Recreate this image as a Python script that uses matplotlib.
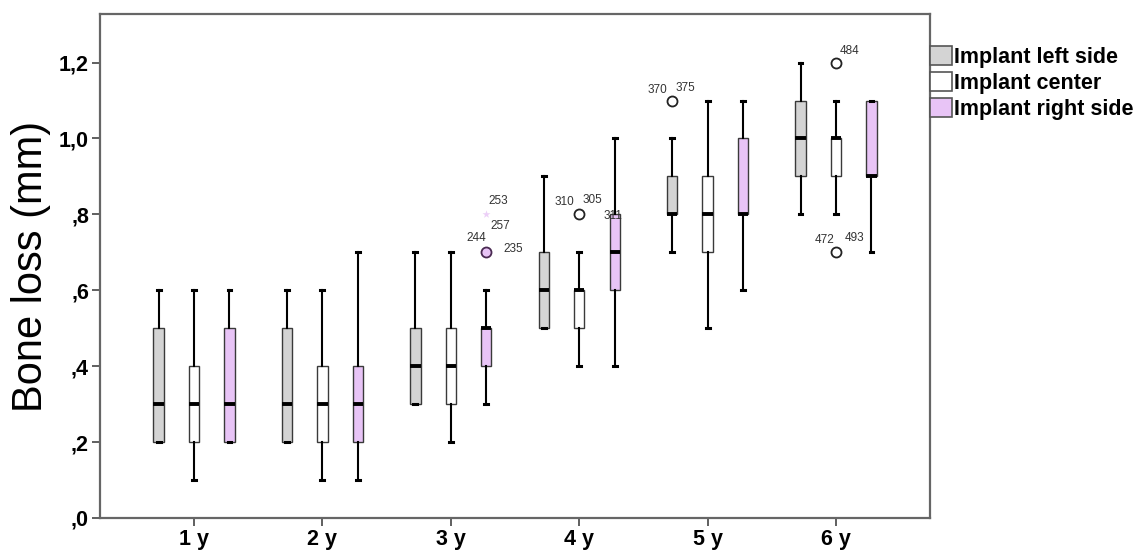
import numpy as np
import matplotlib.pyplot as plt
from matplotlib.patches import Patch

plt.rcParams['font.family'] = ['Liberation Sans', 'DejaVu Sans']

groups = ['1 y', '2 y', '3 y', '4 y', '5 y', '6 y']
series = ['Implant left side', 'Implant center', 'Implant right side']
colors = ['#d4d4d4', '#ffffff', '#e8c4f6']

# box stats per series: whisker low, q1, median, q3, whisker high
left_lo = [0.2, 0.2, 0.3, 0.5, 0.7, 0.8]
left_q1 = [0.2, 0.2, 0.3, 0.5, 0.8, 0.9]
left_med = [0.3, 0.3, 0.4, 0.6, 0.8, 1.0]
left_q3 = [0.5, 0.5, 0.5, 0.7, 0.9, 1.1]
left_hi = [0.6, 0.6, 0.7, 0.9, 1.0, 1.2]

center_lo = [0.1, 0.1, 0.2, 0.4, 0.5, 0.8]
center_q1 = [0.2, 0.2, 0.3, 0.5, 0.7, 0.9]
center_med = [0.3, 0.3, 0.4, 0.6, 0.8, 1.0]
center_q3 = [0.4, 0.4, 0.5, 0.6, 0.9, 1.0]
center_hi = [0.6, 0.6, 0.7, 0.7, 1.1, 1.1]

right_lo = [0.2, 0.1, 0.3, 0.4, 0.6, 0.7]
right_q1 = [0.2, 0.2, 0.4, 0.6, 0.8, 0.9]
right_med = [0.3, 0.3, 0.5, 0.7, 0.8, 0.9]
right_q3 = [0.5, 0.4, 0.5, 0.8, 1.0, 1.1]
right_hi = [0.6, 0.7, 0.6, 1.0, 1.1, 1.1]

stats_all = [
    (left_lo, left_q1, left_med, left_q3, left_hi),
    (center_lo, center_q1, center_med, center_q3, center_hi),
    (right_lo, right_q1, right_med, right_q3, right_hi),
]

# outliers: group index, series index, value, marker
out_group = [2, 2, 3, 4, 5, 5]
out_series = [2, 2, 1, 0, 1, 1]
out_value = [0.8, 0.7, 0.8, 1.1, 1.2, 0.7]
out_marker = ['*', 'o', 'o', 'o', 'o', 'o']

# case labels for outliers: outlier index, text, offset (px), alignment
lab_idx = [0, 0, 1, 1, 2, 2, 2, 3, 3, 4, 5, 5]
lab_text = ['253', '257', '244', '235', '310', '305', '311', '370', '375', '484', '472', '493']
lab_dx = [2, 4, 0, 17, -5, 3, 24, -5, 3, 4, -2, 9]
lab_dy = [13, -12, 14, 3, 12, 14, -2, 11, 13, 12, 12, 14]
lab_ha = ['left', 'left', 'right', 'left', 'right', 'left', 'left', 'right', 'left', 'left', 'right', 'left']

fig = plt.figure(figsize=(11.46, 5.52), dpi=100)
ax = fig.add_axes([0.0873, 0.0616, 0.8115 - 0.0873, 0.9746 - 0.0616])

pos = np.arange(1, len(groups) + 1)
offsets = [-0.276, 0.0, 0.276]

for s, (lo, q1, med, q3, hi) in enumerate(stats_all):
    bstats = []
    for g in range(len(groups)):
        bstats.append({'whislo': lo[g], 'q1': q1[g], 'med': med[g],
                       'q3': q3[g], 'whishi': hi[g], 'fliers': []})
    ax.bxp(bstats, positions=pos + offsets[s], widths=0.08,
           capwidths=0.03, patch_artist=True, showfliers=False,
           boxprops=dict(facecolor=colors[s], edgecolor='#3a3a3a', linewidth=1.0),
           medianprops=dict(color='black', linewidth=2.8),
           whiskerprops=dict(color='black', linewidth=1.5),
           capprops=dict(color='black', linewidth=2.2),
           manage_ticks=False)

for i in range(len(out_value)):
    x = pos[out_group[i]] + offsets[out_series[i]]
    if out_marker[i] == '*':
        ax.scatter(x, out_value[i], marker='*', s=36, color='#eccff7',
                   linewidths=0, zorder=4)
    else:
        face = colors[out_series[i]] if out_series[i] == 2 else 'white'
        edge = '#4a2a52' if out_series[i] == 2 else '#222222'
        ax.scatter(x, out_value[i], marker='o', s=52, facecolor=face,
                   edgecolor=edge, linewidths=1.3, zorder=4)

for k in range(len(lab_text)):
    i = lab_idx[k]
    x = pos[out_group[i]] + offsets[out_series[i]]
    ax.annotate(lab_text[k], (x, out_value[i]), xytext=(lab_dx[k], lab_dy[k]),
                textcoords='offset pixels', ha=lab_ha[k], va='center',
                fontsize=8.5, color='#333333')

ax.set_xlim(0.268, 6.732)
ax.set_ylim(0, 1.328)
ax.set_xticks(pos)
ax.set_xticklabels(groups, fontsize=15.5, fontweight='bold')
yt = [0.0, 0.2, 0.4, 0.6, 0.8, 1.0, 1.2]
ax.set_yticks(yt)
ax.set_yticklabels(['{:.1f}'.format(v).replace('.', ',').lstrip('0') if v < 1 else
                    '{:.1f}'.format(v).replace('.', ',') for v in yt],
                   fontsize=15.5, fontweight='bold')
ax.tick_params(direction='out', length=6, width=1.2, color='#444444', pad=2)
for sp in ax.spines.values():
    sp.set_color('#666666')
    sp.set_linewidth(1.6)

ax.set_ylabel('Bone loss (mm)', fontsize=30, labelpad=6)

handles = [Patch(facecolor=colors[s], edgecolor='#555555', linewidth=1.2) for s in range(3)]
fig.legend(handles, series, loc='upper left', bbox_to_anchor=(0.8115, 0.916),
           frameon=False, prop={'size': 15.5, 'weight': 'bold'},
           handlelength=1.0, handleheight=0.95, handletextpad=0.1,
           labelspacing=0.2, borderaxespad=0, borderpad=0)

fig.savefig('out.png', dpi=100)
